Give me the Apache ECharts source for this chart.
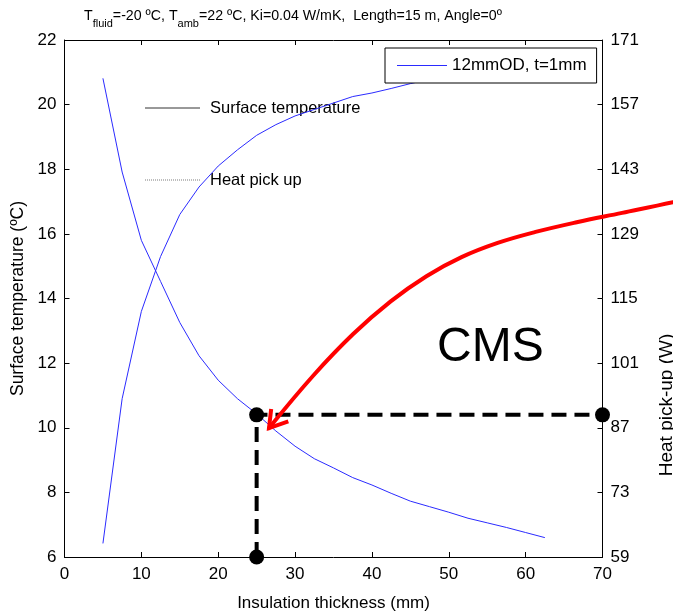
<!DOCTYPE html>
<html>
<head>
<meta charset="utf-8">
<script src="https://cdn.jsdelivr.net/npm/echarts@6/dist/echarts.min.js"></script>
<style>
  html, body { margin: 0; padding: 0; background: #fff; }
  #main { width: 673px; height: 614px; }
</style>
</head>
<body>
<div id="main"></div>
<script>
// insulation thickness (mm)
const thickness = [5, 7.5, 10, 12.5, 15, 17.5, 20, 22.5, 25, 27.5, 30, 32.5, 35, 37.5, 40, 42.5, 45, 47.5, 50, 52.5, 55, 57.5, 60, 62.5];
// heat pick-up (W), right axis
const heatPickup = [162.7, 142.4, 127.6, 118.7, 109.8, 102.6, 97.3, 93.3, 90.0, 86.3, 83.0, 80.3, 78.3, 76.2, 74.6, 72.8, 71.1, 69.9, 68.7, 67.4, 66.4, 65.4, 64.3, 63.2];
// surface temperature (ºC), left axis
const surfaceTemp = [6.42, 10.9, 13.6, 15.3, 16.6, 17.45, 18.1, 18.6, 19.05, 19.38, 19.65, 19.85, 20.05, 20.25, 20.36, 20.5, 20.65, 20.78, 20.9, 21.0, 21.1, 21.2, 21.28, 21.36];

// CMS operating point and guide lines
const guideX = [25, 25, 70];
const guideT = [6, 10.4, 10.4];

// red arrow, in axis units (thickness, ºC)
const arrowX = [81.38, 79.17, 72.55, 66.64, 61.29, 56.36, 51.66, 47.09, 42.44, 37.56, 32.35, 26.61];
const arrowT = [17.11, 16.98, 16.65, 16.36, 16.06, 15.72, 15.28, 14.69, 13.91, 12.90, 11.61, 9.99];
const arrowHeadX = [26.89, 26.61, 29.12];
const arrowHeadT = [10.58, 9.99, 10.2];

const rightTicks = [59, 73, 87, 101, 115, 129, 143, 157, 171];

const FONT = "'Liberation Sans', Arial, sans-serif";
const BLUE = '#2b2bff';

let chart = echarts.init(document.getElementById('main'), null, { renderer: 'canvas' });

const zip = (xs, ys) => xs.map((x, i) => [x, ys[i]]);

let option = {
  animation: false,
  backgroundColor: '#fff',
  textStyle: { fontFamily: FONT, color: '#000' },
  title: {
    left: 79,
    top: 4,
    text: '{n|T}{s|fluid}{n|=-20 ºC, T}{s|amb}{n|=22 ºC, Ki=0.04 W/mK,  Length=15 m, Angle=0º}',
    textStyle: {
      fontWeight: 'normal',
      rich: {
        n: { fontFamily: FONT, fontSize: 14.2, fontWeight: 'normal', lineHeight: 18, verticalAlign: 'top', color: '#000' },
        s: { fontFamily: FONT, fontSize: 11, fontWeight: 'normal', lineHeight: 13, padding: [9, 0, 0, 0], verticalAlign: 'top', color: '#000' }
      }
    }
  },
  legend: {
    data: ['12mmOD, t=1mm'],
    left: 385,
    top: 48,
    padding: [8, 10, 8, 12],
    borderColor: '#000',
    borderWidth: 1,
    borderRadius: 0,
    backgroundColor: '#fff',
    icon: 'rect',
    itemWidth: 50,
    itemHeight: 1,
    itemGap: 6,
    textStyle: { fontFamily: FONT, fontSize: 17, color: '#000', lineHeight: 19 }
  },
  grid: { left: 64.5, right: 70.5, top: 40, bottom: 57, outerBoundsMode: 'none', containLabel: false },
  xAxis: [{
    type: 'value',
    min: 0,
    max: 70,
    interval: 10,
    name: 'Insulation thickness (mm)',
    nameLocation: 'middle',
    nameGap: 38,
    nameTextStyle: { fontFamily: FONT, fontSize: 17, color: '#000' },
    axisLine: { show: true, onZero: false, lineStyle: { color: '#000', width: 1 } },
    axisTick: { show: true, inside: true, length: 5, lineStyle: { color: '#000' } },
    axisLabel: { fontFamily: FONT, fontSize: 17, color: '#000', margin: 9 },
    splitLine: { show: false }
  }, {
    type: 'value',
    position: 'top',
    min: 0,
    max: 70,
    interval: 10,
    axisLine: { show: true, onZero: false, lineStyle: { color: '#000', width: 1 } },
    axisTick: { show: true, inside: true, length: 5, lineStyle: { color: '#000' } },
    axisLabel: { show: false },
    splitLine: { show: false }
  }],
  yAxis: [{
    type: 'value',
    min: 6,
    max: 22,
    interval: 2,
    name: 'Surface temperature (ºC)',
    nameLocation: 'middle',
    nameGap: 35,
    nameTextStyle: { fontFamily: FONT, fontSize: 17.5, color: '#000' },
    axisLine: { show: true, onZero: false, lineStyle: { color: '#000', width: 1 } },
    axisTick: { show: true, inside: true, length: 5, lineStyle: { color: '#000' } },
    axisLabel: { fontFamily: FONT, fontSize: 17, color: '#000', margin: 8 },
    splitLine: { show: false }
  }, {
    type: 'value',
    position: 'right',
    min: 59,
    max: 171,
    interval: 14,
    axisLine: { show: true, onZero: false, lineStyle: { color: '#000', width: 1 } },
    axisTick: { show: true, inside: true, length: 5, lineStyle: { color: '#000' }, customValues: rightTicks },
    axisLabel: { fontFamily: FONT, fontSize: 17, color: '#000', margin: 8, customValues: rightTicks },
    splitLine: { show: false }
  }],
  graphic: [
    // labels typed inside the plot
    { id: 'st-line', type: 'line', shape: { x1: 145, y1: 108, x2: 200, y2: 108 }, style: { stroke: '#333', lineWidth: 1 } },
    { id: 'st-text', type: 'text', left: 210, top: 100, style: { text: 'Surface temperature', fontFamily: FONT, fontSize: 16.5, fill: '#000' } },
    { id: 'hp-line', type: 'line', shape: { x1: 145, y1: 180, x2: 200, y2: 180 }, style: { stroke: '#444', lineWidth: 0.7, lineDash: [1, 1] } },
    { id: 'hp-text', type: 'text', left: 210, top: 172, style: { text: 'Heat pick up', fontFamily: FONT, fontSize: 16.5, fill: '#000' } },
    { id: 'cms', type: 'text', left: 437, top: 324, style: { text: 'CMS', fontFamily: FONT, fontSize: 48, fill: '#000' } },
    { id: 'y2name', type: 'text', x: 667, y: 405, rotation: Math.PI / 2, style: { text: 'Heat pick-up (W)', fontFamily: FONT, fontSize: 19, fill: '#000', align: 'center', verticalAlign: 'middle' } }
  ],
  series: [{
    name: '12mmOD, t=1mm',
    type: 'line',
    yAxisIndex: 1,
    symbol: 'none',
    lineStyle: { color: BLUE, width: 1 },
    itemStyle: { color: BLUE },
    data: zip(thickness, heatPickup)
  }, {
    name: 'Surface temperature',
    type: 'line',
    yAxisIndex: 0,
    symbol: 'none',
    lineStyle: { color: BLUE, width: 1 },
    itemStyle: { color: BLUE },
    data: zip(thickness, surfaceTemp)
  }, {
    name: 'guide',
    type: 'line',
    yAxisIndex: 0,
    symbol: 'none',
    clip: false,
    z: 5,
    lineStyle: { color: '#000', width: 4, type: [15, 8] },
    data: zip(guideX, guideT)
  }, {
    name: 'points',
    type: 'scatter',
    yAxisIndex: 0,
    clip: false,
    z: 6,
    symbolSize: 15,
    itemStyle: { color: '#000', opacity: 1 },
    data: zip(guideX, guideT)
  }]
};
chart.setOption(option);

// red arrow: placed through the axes so it can run past the plot edge
const toPx = (xs, ys) => xs.map((x, i) => chart.convertToPixel({ xAxisIndex: 0, yAxisIndex: 0 }, [x, ys[i]]));
chart.setOption({
  graphic: [
    { id: 'arrow', type: 'polyline', z: 100, shape: { points: toPx(arrowX, arrowT), smooth: 0.4 }, style: { stroke: '#ff0000', lineWidth: 4, fill: null, lineCap: 'round' } },
    { id: 'arrow-head', type: 'polyline', z: 100, shape: { points: toPx(arrowHeadX, arrowHeadT) }, style: { stroke: '#ff0000', lineWidth: 4, fill: null, lineJoin: 'miter' } }
  ]
});
</script>
</body>
</html>
